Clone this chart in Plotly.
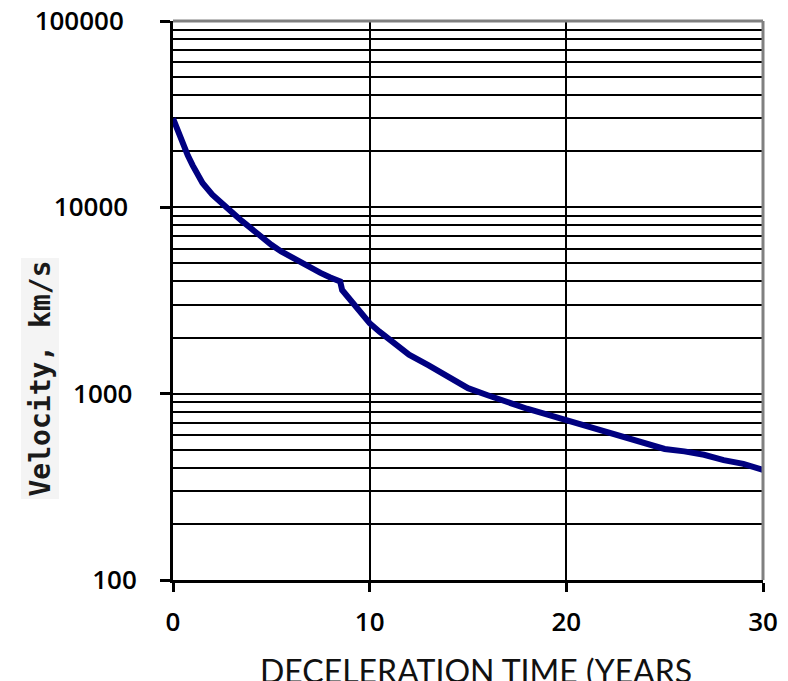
import plotly.graph_objects as go

# Data
time_years = [0, 0.25, 0.5, 0.75, 1.0, 1.5, 2.0, 2.5, 3.0, 3.5, 4.0, 4.5, 5.0, 5.5, 6.0, 6.5,
              7.0, 7.5, 8.0, 8.5, 8.6, 9.0, 9.5, 10.0, 10.5, 11.0, 11.5, 12.0, 13.0, 14.0,
              15.0, 16.0, 17.0, 18.0, 19.0, 20.0, 21.0, 22.0, 23.0, 24.0, 25.0, 26.0, 27.0,
              28.0, 29.0, 30.0]
velocity_kms = [30000, 25500, 22000, 19000, 16800, 13500, 11700, 10400, 9400, 8450, 7650, 6900,
                6300, 5800, 5400, 5100, 4750, 4450, 4200, 4000, 3600, 3180, 2750, 2390, 2150,
                1950, 1790, 1620, 1420, 1230, 1070, 980, 900, 830, 775, 720, 670, 630, 585,
                540, 505, 490, 470, 440, 420, 390]

y_major = [100, 1000, 10000, 100000]
y_major_text = ["100", "1000\u2009", "10000\u2009\u2009", "100000\u2009\u2009\u2009"]
y_minor = [m * d for d in (100, 1000, 10000) for m in range(2, 10)]
x_ticks = [0, 10, 20, 30]

x_title = "DECELERATION TIME (YEARS"
y_title = "Velocity, km/s"

# page body has an 8px margin; figure coordinates are offset accordingly
W, H = 780, 673
L, R, T, B = 165, 25, 13, 101
PW, PH = W - L - R, H - T - B

fig = go.Figure()
fig.add_trace(go.Scatter(
    x=time_years, y=velocity_kms, mode="lines",
    line=dict(color="#000080", width=6),
    showlegend=False, hoverinfo="skip",
))

tick_font = dict(family="Open Sans", size=26, color="#000000", weight=600)

fig.update_layout(
    width=W, height=H,
    margin=dict(l=L, r=R, t=T, b=B),
    paper_bgcolor="white", plot_bgcolor="white",
    xaxis=dict(
        range=[0, 30], tickvals=x_ticks, ticktext=[str(v) for v in x_ticks],
        showgrid=True, gridcolor="#000000", gridwidth=2,
        showline=True, linecolor="#000000", linewidth=3,
        ticks="outside", ticklen=9, tickwidth=2.5, tickcolor="#000000",
        tickfont=tick_font, ticklabelstandoff=8, zeroline=False, automargin=False,
        ticklabeloverflow="allow",
    ),
    yaxis=dict(
        type="log", range=[2, 5], tickvals=y_major, ticktext=y_major_text,
        showgrid=True, gridcolor="#000000", gridwidth=2,
        showline=True, linecolor="#000000", linewidth=3,
        ticks="outside", ticklen=10, tickwidth=2.5, tickcolor="#000000",
        tickfont=tick_font, ticklabelstandoff=18, zeroline=False, automargin=False,
        ticklabeloverflow="allow",
        minor=dict(tickvals=y_minor, showgrid=True, gridcolor="#000000",
                   gridwidth=2, ticks=""),
    ),
    shapes=[
        dict(type="line", xref="paper", yref="paper", x0=0, x1=1, y0=1, y1=1,
             line=dict(color="#808080", width=3), layer="above"),
        dict(type="line", xref="paper", yref="paper", x0=1, x1=1, y0=0, y1=1,
             line=dict(color="#808080", width=3), layer="above"),
    ],
    annotations=[
        dict(text=x_title, xref="paper", yref="paper", x=(250 - L) / PW,
             y=(T + PH - 662) / PH, xanchor="left", yanchor="middle", showarrow=False,
             font=dict(family="Lato", size=32, color="#111111")),
        dict(text="<b>" + y_title + "</b>", xref="paper", yref="paper",
             x=(31.5 - L) / PW, y=(T + PH - 371) / PH, textangle=-90,
             xanchor="center", yanchor="middle", showarrow=False,
             bgcolor="#f4f4f4", borderpad=2,
             font=dict(family="DejaVu Sans Mono", size=28, color="#1a1a1a")),
    ],
)

fig.write_html("out.html")
